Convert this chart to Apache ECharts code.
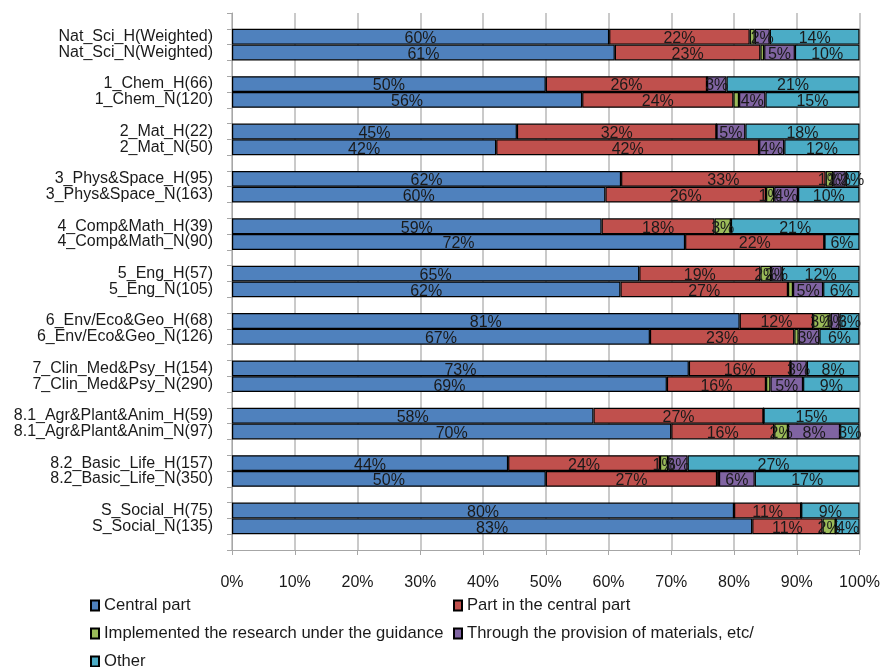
<!DOCTYPE html>
<html>
<head>
<meta charset="utf-8">
<script src="https://cdn.jsdelivr.net/npm/echarts@6/dist/echarts.min.js"></script>
<style>
html,body{margin:0;padding:0;background:#fff;}
#chart{width:883px;height:667px;}
</style>
</head>
<body>
<div id="chart"></div>
<script>
// Row labels (top to bottom), each pair H / N per field
const rowLabels = [
  'Nat_Sci_H(Weighted)', 'Nat_Sci_N(Weighted)',
  '1_Chem_H(66)', '1_Chem_N(120)',
  '2_Mat_H(22)', '2_Mat_N(50)',
  '3_Phys&Space_H(95)', '3_Phys&Space_N(163)',
  '4_Comp&Math_H(39)', '4_Comp&Math_N(90)',
  '5_Eng_H(57)', '5_Eng_N(105)',
  '6_Env/Eco&Geo_H(68)', '6_Env/Eco&Geo_N(126)',
  '7_Clin_Med&Psy_H(154)', '7_Clin_Med&Psy_N(290)',
  '8.1_Agr&Plant&Anim_H(59)', '8.1_Agr&Plant&Anim_N(97)',
  '8.2_Basic_Life_H(157)', '8.2_Basic_Life_N(350)',
  'S_Social_H(75)', 'S_Social_N(135)'
];

const seriesNames = [
  'Central part',
  'Part in the central part',
  'Implemented the research under the guidance',
  'Through the provision of materials, etc/',
  'Other'
];

const centralPart = [60.1, 61.0, 50.0, 55.8, 45.4, 42.1, 62.0, 59.5, 58.9, 72.2, 64.9, 61.9, 80.9, 66.6, 72.8, 69.3, 57.6, 70.0, 44.0, 50.0, 80.0, 82.9];
const partInCentral = [22.4, 23.2, 25.7, 24.1, 31.8, 41.9, 32.6, 25.6, 18.0, 22.2, 19.3, 26.7, 11.7, 23.0, 16.2, 15.8, 27.1, 16.4, 24.2, 27.3, 10.7, 11.2];
const implementedGuidance = [0.8, 0.6, 0, 0.9, 0, 0, 1.2, 1.3, 2.6, 0, 1.7, 0.8, 2.8, 0.7, 0, 0.7, 0, 2.2, 1.3, 0.3, 0, 2.1];
const provisionMaterials = [2.4, 4.9, 3.1, 4.2, 4.6, 4.0, 2.0, 3.8, 0, 0, 1.7, 4.8, 1.4, 3.3, 2.6, 5.2, 0, 8.3, 3.1, 5.7, 0, 0];
const otherPart = [14.3, 10.3, 21.2, 15.0, 18.2, 12.0, 2.2, 9.8, 20.5, 5.6, 12.4, 5.8, 3.2, 6.4, 8.4, 9.0, 15.3, 3.1, 27.4, 16.7, 9.3, 3.8];

const xTickValues = [0, 10, 20, 30, 40, 50, 60, 70, 80, 90, 100];

const colors = ['#4F81BD', '#C0504D', '#9BBB59', '#8064A2', '#4BACC6'];

// Build category axis with a blank slot before every pair (and one at the end)
const categories = [''];
const slotIndex = [];
for (let i = 0; i < rowLabels.length; i += 2) {
  slotIndex.push(categories.length); categories.push(rowLabels[i]);
  slotIndex.push(categories.length); categories.push(rowLabels[i + 1]);
  categories.push(' '.repeat(i / 2 + 1));
}
function expand(arr) {
  const out = categories.map(() => '-');
  arr.forEach((v, i) => { out[slotIndex[i]] = v; });
  return out;
}
const allData = [centralPart, partInCentral, implementedGuidance, provisionMaterials, otherPart];

const series = seriesNames.map((name, k) => ({
  name: name,
  type: 'bar',
  stack: 'total',
  barCategoryGap: '0%',
  data: expand(allData[k]),
  itemStyle: { color: colors[k], borderColor: '#000', borderWidth: 1.2 },
  label: {
    show: true,
    position: 'inside',
    color: '#1a1a1a',
    fontSize: 16,
    fontFamily: 'Liberation Sans, Arial, sans-serif',
    textBorderWidth: 0,
    offset: [0, 2],
    formatter: p => (typeof p.value === 'number' && p.value >= 1) ? Math.round(p.value) + '%' : ''
  },
  emphasis: { disabled: true },
  animation: false
}));

const legendCommon = {
  orient: 'vertical', top: 597, height: 90, padding: 0, itemGap: 11,
  itemWidth: 8, itemHeight: 10, icon: 'rect',
  textStyle: { fontSize: 16.6, color: '#1a1a1a' }
};

const chart = echarts.init(document.getElementById('chart'), null, { renderer: 'canvas' });
chart.setOption({
  animation: false,
  backgroundColor: '#fff',
  textStyle: { fontFamily: 'Liberation Sans, Arial, sans-serif' },
  grid: { left: 232, right: 21, top: 13, bottom: 117, containLabel: false },
  legend: [
    Object.assign({}, legendCommon, { data: [seriesNames[0], seriesNames[2], seriesNames[4]], left: 90 }),
    Object.assign({}, legendCommon, { data: [seriesNames[1], seriesNames[3]], left: 453 })
  ],
  xAxis: {
    type: 'value',
    min: xTickValues[0],
    max: xTickValues[xTickValues.length - 1],
    interval: xTickValues[1] - xTickValues[0],
    axisLine: { show: true, lineStyle: { color: '#a6a6a6', width: 1 } },
    axisTick: { show: true, length: 5, lineStyle: { color: '#a6a6a6', width: 1 } },
    splitLine: { show: true, lineStyle: { color: '#b8b8b8', width: 1.5 } },
    axisLabel: { formatter: '{value}%', fontSize: 16, color: '#1a1a1a', margin: 25 }
  },
  yAxis: {
    type: 'category',
    inverse: true,
    data: categories,
    axisLine: { show: true, lineStyle: { color: '#a6a6a6', width: 1 } },
    axisTick: { show: true, length: 5, interval: 0, lineStyle: { color: '#a6a6a6', width: 1 } },
    axisLabel: { interval: 0, fontSize: 16, color: '#1a1a1a', margin: 19, padding: [6, 0, 0, 0] },
    splitLine: { show: false }
  },
  series: series
});
</script>
</body>
</html>
